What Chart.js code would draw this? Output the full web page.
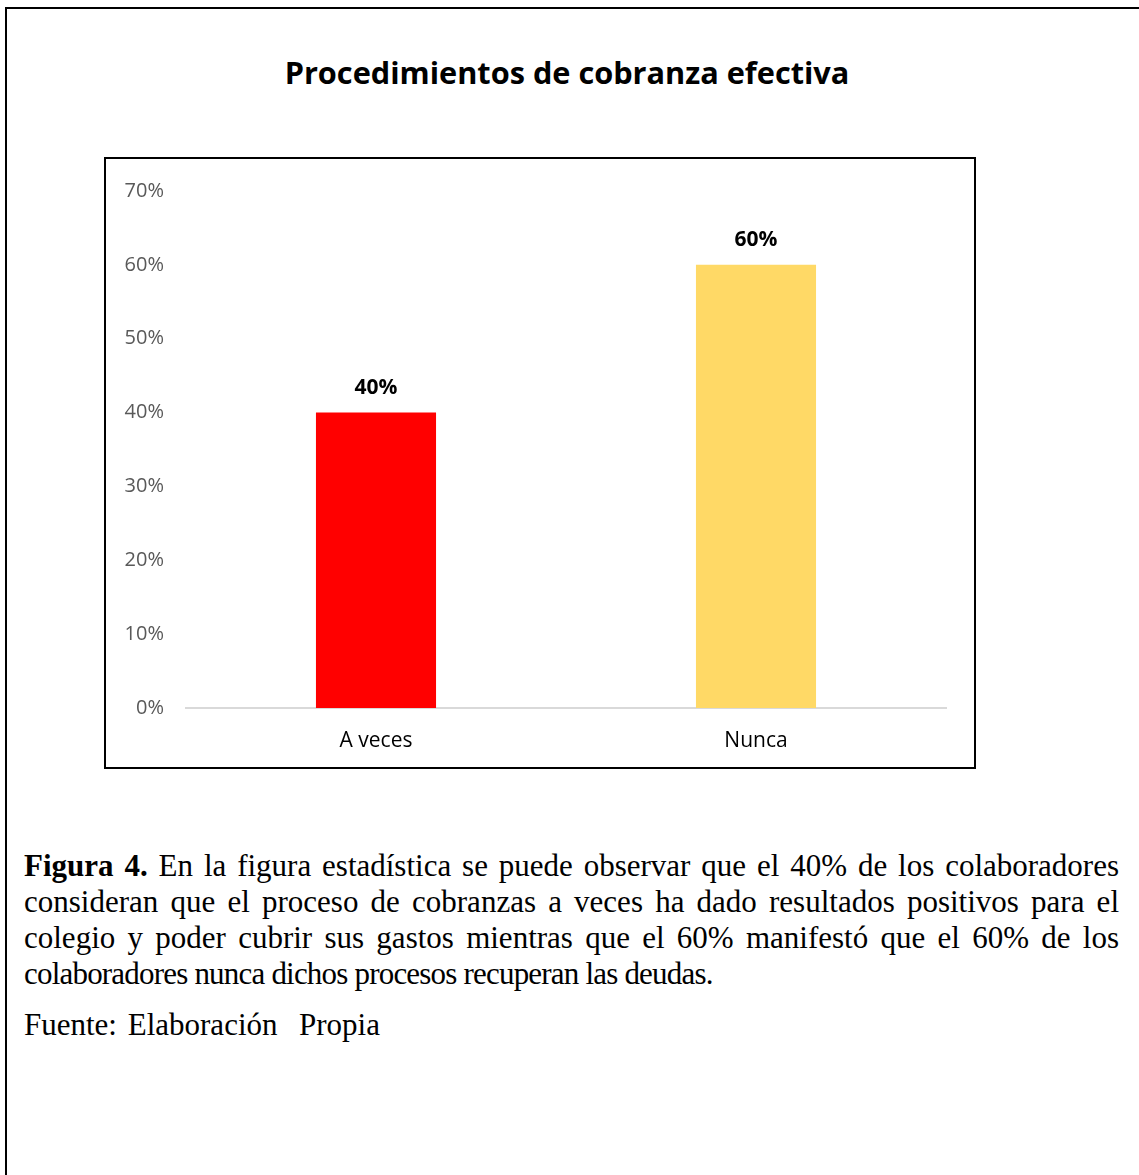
<!DOCTYPE html>
<html>
<head>
<meta charset="utf-8">
<script src="https://cdn.jsdelivr.net/npm/chart.js@4"></script>
<style>
  html, body { margin: 0; padding: 0; background: #fff; }
  body { width: 1139px; height: 1175px; overflow: hidden; position: relative; }
  .frame {
    position: absolute; left: 5px; top: 7px; width: 1150px; height: 1200px;
    border: 2px solid #000; box-sizing: border-box;
  }
  .title {
    position: absolute; left: 0; top: 50px; width: 1134px; text-align: center;
    font-family: "Open Sans", sans-serif; font-weight: bold; font-size: 30.7px;
    color: #000; line-height: 44px;
  }
  .chartbox {
    position: absolute; left: 104px; top: 157px; width: 872px; height: 612px;
    border: 2px solid #000; box-sizing: border-box; background: #fff;
  }
  .chartbox canvas { display: block; position: absolute; left: 0; top: -2px; }
  .caption {
    position: absolute; left: 24px; top: 848px; width: 1095px;
    font-family: "Liberation Serif", "Times New Roman", serif; font-size: 31px;
    line-height: 36px; color: #000;
  }
  .caption .ln { text-align: justify; text-align-last: justify; white-space: nowrap; }
  .caption .last { text-align: left; text-align-last: left; white-space: nowrap; }
  .caption .tight { letter-spacing: -0.8px; }
  .caption .src { margin-top: 15px; word-spacing: 3px; }
</style>
</head>
<body>
<div class="frame"></div>
<div class="title">Procedimientos de cobranza efectiva</div>
<div class="chartbox"><canvas id="chart" width="868" height="610"></canvas></div>
<div class="caption">
  <div class="ln"><b>Figura 4.</b> En la figura estadística se puede observar que el 40% de los colaboradores</div>
  <div class="ln">consideran que el proceso de cobranzas a veces ha dado resultados positivos para el</div>
  <div class="ln">colegio y poder cubrir sus gastos mientras que el 60% manifestó que el 60% de los</div>
  <div class="last tight">colaboradores nunca dichos procesos recuperan las deudas.</div>
  <div class="last src">Fuente: Elaboración&nbsp; Propia</div>
</div>
<script>
const categories = ["A veces", "Nunca"];
const values = [0.40, 0.60];
const barColors = ["#FF0000", "#FFD966"];
const yTicks = [0, 0.1, 0.2, 0.3, 0.4, 0.5, 0.6, 0.7];

const pct = (v) => Math.round(v * 100) + "%";

// value labels above each bar
const valueLabels = {
  id: "valueLabels",
  afterDatasetsDraw(chart) {
    const ctx = chart.ctx;
    const meta = chart.getDatasetMeta(0);
    ctx.save();
    ctx.font = "bold 21px 'Open Sans', sans-serif";
    ctx.fillStyle = "#000";
    ctx.textAlign = "center";
    ctx.textBaseline = "middle";
    meta.data.forEach((bar, i) => {
      ctx.fillText(pct(values[i]), bar.x, bar.y - 25);
    });
    ctx.restore();
  }
};

const ctx = document.getElementById("chart").getContext("2d");
new Chart(ctx, {
  type: "bar",
  data: {
    labels: categories,
    datasets: [{
      data: values,
      backgroundColor: barColors,
      categoryPercentage: 1,
      barPercentage: 0.316
    }]
  },
  options: {
    responsive: false,
    animation: false,
    layout: { padding: { left: 0, right: 28, top: 17, bottom: 0 } },
    plugins: {
      legend: { display: false },
      tooltip: { enabled: false },
      title: { display: false }
    },
    scales: {
      x: {
        afterFit(scale) { scale.height = 59; },
        grid: { display: false, drawTicks: false },
        border: { display: true, color: "#d9d9d9", width: 2 },
        ticks: {
          color: "#000",
          padding: 20,
          font: { family: "'Open Sans', sans-serif", size: 21 }
        }
      },
      y: {
        min: 0,
        max: 0.7,
        afterBuildTicks(scale) {
          scale.ticks = yTicks.map((v) => ({ value: v }));
        },
        afterFit(scale) { scale.width = 80; },
        grid: { display: false, drawTicks: false },
        border: { display: false },
        ticks: {
          color: "#595959",
          padding: 22,
          font: { family: "'Open Sans', sans-serif", size: 20 },
          callback: (v) => pct(v)
        }
      }
    }
  },
  plugins: [valueLabels]
});
</script>
</body>
</html>
